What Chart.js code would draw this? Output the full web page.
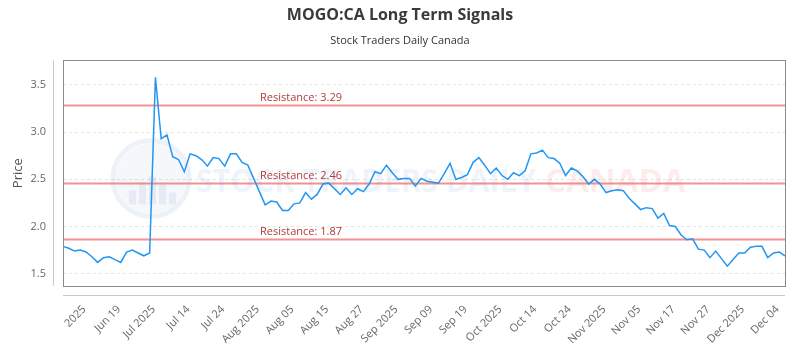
<!DOCTYPE html>
<html>
<head>
<meta charset="utf-8">
<script src="https://cdn.jsdelivr.net/npm/chart.js@4.4.1/dist/chart.umd.min.js"></script>
<style>
	html, body { margin: 0; padding: 0; background: #ffffff; }
	#wrap { width: 800px; height: 350px; }
</style>
</head>
<body>
<div id="wrap"><canvas id="chart"></canvas></div>
<script>

// daily closes, Jun 2025 - Dec 2025
const prices = [
	1.79, 1.77, 1.74, 1.75, 1.73, 1.68, 1.62, 1.67, 1.68, 1.65,
	1.62, 1.73, 1.75, 1.72, 1.69, 1.72, 3.58, 2.93, 2.97, 2.74,
	2.71, 2.58, 2.77, 2.75, 2.71, 2.64, 2.73, 2.72, 2.64, 2.77,
	2.77, 2.68, 2.65, 2.51, 2.37, 2.23, 2.27, 2.26, 2.17, 2.17,
	2.24, 2.25, 2.36, 2.29, 2.34, 2.45, 2.46, 2.40, 2.34, 2.41,
	2.34, 2.40, 2.37, 2.45, 2.58, 2.56, 2.65, 2.57, 2.50, 2.51,
	2.51, 2.43, 2.51, 2.48, 2.47, 2.46, 2.56, 2.67, 2.50, 2.52,
	2.55, 2.68, 2.73, 2.65, 2.56, 2.62, 2.54, 2.50, 2.57, 2.54,
	2.59, 2.77, 2.78, 2.81, 2.73, 2.72, 2.67, 2.54, 2.62, 2.59,
	2.53, 2.45, 2.50, 2.45, 2.36, 2.38, 2.39, 2.38, 2.30, 2.24,
	2.18, 2.20, 2.19, 2.09, 2.14, 2.01, 2.00, 1.91, 1.86, 1.87,
	1.76, 1.75, 1.67, 1.74, 1.66, 1.58, 1.65, 1.72, 1.72, 1.78,
	1.79, 1.79, 1.67, 1.72, 1.73, 1.69
];

// one label every 6 sessions, starting at session 3
const tickLabels = [
	'2025', 'Jun 19', 'Jul 2025', 'Jul 14', 'Jul 24', 'Aug 2025', 'Aug 05',
	'Aug 15', 'Aug 27', 'Sep 2025', 'Sep 09', 'Sep 19', 'Oct 2025', 'Oct 14',
	'Oct 24', 'Nov 2025', 'Nov 05', 'Nov 17', 'Nov 27', 'Dec 2025', 'Dec 04'
];
const tickStart = 3, tickEvery = 6;

const resistance = [3.29, 2.46, 1.87];

const sessions = prices.map((p, i) => i);


const frame = {
	id: 'frame',

	beforeDatasetsDraw(chart) {
		const {ctx, chartArea: a, scales: {y}} = chart;
		ctx.save();

		// watermark
		const cx = a.left + 88, cy = a.top + 118;
		ctx.globalAlpha = 0.12;
		ctx.strokeStyle = '#6f8fc8';
		ctx.lineWidth = 5;
		ctx.beginPath();
		ctx.arc(cx, cy, 38, 0, Math.PI * 2);
		ctx.stroke();
		ctx.globalAlpha = 0.07;
		ctx.fillStyle = '#6f8fc8';
		ctx.beginPath();
		ctx.arc(cx, cy, 35, 0, Math.PI * 2);
		ctx.fill();
		ctx.globalAlpha = 0.12;
		[[-22, 14], [-12, 22], [-2, 28], [8, 20], [18, 12]].forEach(function(b) {
			ctx.fillRect(cx + b[0], cy + 26 - b[1], 7, b[1]);
		});
		ctx.font = 'bold 33px "Open Sans"';
		ctx.textBaseline = 'alphabetic';
		ctx.textAlign = 'left';
		ctx.globalAlpha = 0.12;
		ctx.fillStyle = '#7d9fd6';
		ctx.fillText('STOCK TRADERS DAILY', a.left + 133, a.top + 132, 340);
		ctx.fillStyle = '#f06060';
		ctx.fillText('CANADA', a.left + 482, a.top + 132, 152);
		ctx.globalAlpha = 1;

		// resistance levels
		ctx.font = '11px "Open Sans"';
		ctx.textBaseline = 'bottom';
		resistance.forEach(function(level) {
			const py = Math.round(y.getPixelForValue(level)) + 0.5;
			ctx.strokeStyle = 'rgba(238, 110, 110, 0.75)';
			ctx.lineWidth = 2;
			ctx.beginPath();
			ctx.moveTo(a.left, py);
			ctx.lineTo(a.right, py);
			ctx.stroke();
			ctx.fillStyle = '#b23a3a';
			ctx.fillText('Resistance: ' + level.toFixed(2), a.left + 197, py - 2);
		});
		ctx.restore();
	},

	afterDraw(chart) {
		const {ctx, chartArea: a} = chart;
		ctx.save();
		ctx.lineWidth = 1;
		ctx.strokeStyle = '#8a8a8a';
		ctx.strokeRect(Math.round(a.left) + 0.5, Math.round(a.top) + 0.5,
			Math.round(a.right - a.left), Math.round(a.bottom - a.top));

		ctx.strokeStyle = '#c8c8c8';
		ctx.beginPath();
		ctx.moveTo(Math.round(a.left) - 9.5, a.top);
		ctx.lineTo(Math.round(a.left) - 9.5, a.bottom);
		ctx.moveTo(a.left, Math.round(a.bottom) + 9.5);
		ctx.lineTo(a.right, Math.round(a.bottom) + 9.5);
		ctx.stroke();
		ctx.restore();
	}
};


const config = {
	type: 'line',
	data: {
		labels: sessions,
		datasets: [{
			data: prices,
			borderColor: '#2196f3',
			borderWidth: 1.5,
			pointRadius: 0,
			tension: 0,
			fill: false
		}]
	},
	options: {
		responsive: true,
		maintainAspectRatio: false,
		animation: false,
		layout: {padding: {left: 10, right: 10, top: 0, bottom: 0}},
		plugins: {
			legend: {display: false},
			tooltip: {enabled: false},
			title: {
				display: true,
				text: 'MOGO:CA Long Term Signals',
				color: '#3a3a3a',
				font: {family: '"Open Sans"', size: 16, weight: 'bold'},
				padding: {top: 6, bottom: 6}
			},
			subtitle: {
				display: true,
				text: 'Stock Traders Daily Canada',
				color: '#333333',
				font: {family: '"Open Sans"', size: 11},
				padding: {top: 3, bottom: 13}
			}
		},
		scales: {
			x: {
				grid: {display: false, drawTicks: false},
				border: {display: false},
				afterFit(scale) { scale.height = 64; },
				ticks: {
					autoSkip: false,
					maxRotation: 45,
					minRotation: 45,
					padding: 17,
					labelOffset: 4,
					color: '#666666',
					font: {family: '"Open Sans"', size: 11},
					callback(val, i) {
						const k = (i - tickStart) / tickEvery;
						return Number.isInteger(k) && k >= 0 ? tickLabels[k] : null;
					}
				}
			},
			y: {
				min: 1.37,
				max: 3.76,
				grid: {color: '#e4e4e4', drawTicks: false},
				border: {display: false, dash: [3, 3]},
				afterFit(scale) { scale.width = 53; },
				afterBuildTicks(scale) {
					scale.ticks = scale.ticks.filter(t => Math.abs(t.value * 2 - Math.round(t.value * 2)) < 1e-6);
				},
				title: {
					display: true,
					text: 'Price',
					color: '#555555',
					font: {family: '"Open Sans"', size: 13},
					padding: {top: 0, bottom: 0}
				},
				ticks: {
					stepSize: 0.5,
					includeBounds: false,
					padding: 17,
					color: '#666666',
					font: {family: '"Open Sans"', size: 11},
					callback: (v) => v.toFixed(1)
				}
			}
		}
	},
	plugins: [frame]
};

new Chart(document.getElementById('chart'), config);

</script>
</body>
</html>
